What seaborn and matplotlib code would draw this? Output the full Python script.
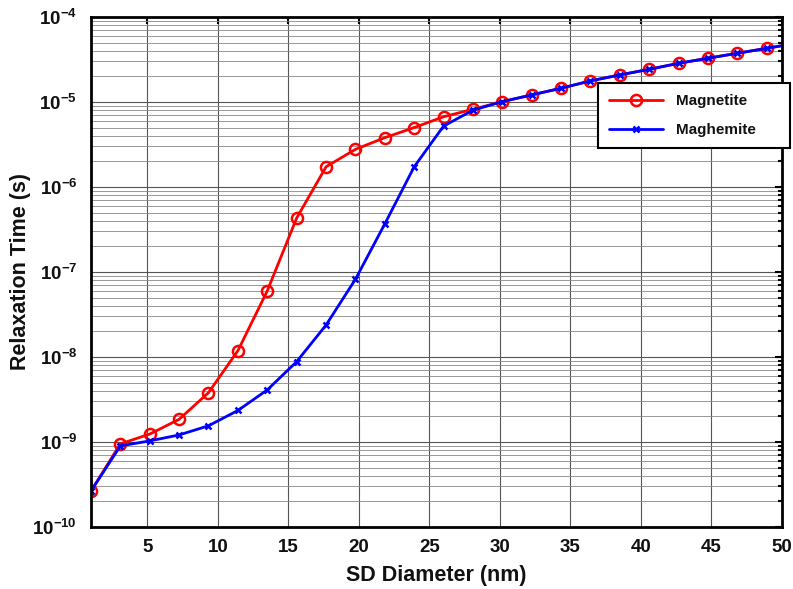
import numpy as np
import pandas as pd
import matplotlib
matplotlib.use("Agg")
import matplotlib.pyplot as plt
import matplotlib.ticker as mticker
import seaborn as sns

# SD diameter (nm), last point sits past the axis limit
diameter = [1.0, 3.08, 5.17, 7.25, 9.33, 11.42, 13.5, 15.58, 17.67, 19.75,
            21.83, 23.92, 26.0, 28.08, 30.17, 32.25, 34.33, 36.42, 38.5,
            40.58, 42.67, 44.75, 46.83, 48.92, 51.0]

magnetite = [2.65e-10, 9.5e-10, 1.24e-9, 1.85e-9, 3.8e-9, 1.19e-8, 6.0e-8,
             4.3e-7, 1.73e-6, 2.77e-6, 3.8e-6, 5.0e-6, 6.7e-6, 8.2e-6,
             1.01e-5, 1.21e-5, 1.45e-5, 1.77e-5, 2.08e-5, 2.42e-5, 2.85e-5,
             3.27e-5, 3.74e-5, 4.28e-5, 4.9e-5]

maghemite = [2.65e-10, 9.0e-10, 1.03e-9, 1.21e-9, 1.55e-9, 2.35e-9, 4.1e-9,
             8.8e-9, 2.38e-8, 8.2e-8, 3.67e-7, 1.73e-6, 5.2e-6, 8.0e-6,
             1.01e-5, 1.21e-5, 1.45e-5, 1.77e-5, 2.08e-5, 2.42e-5, 2.85e-5,
             3.27e-5, 3.74e-5, 4.28e-5, 4.9e-5]

x_ticks = [5, 10, 15, 20, 25, 30, 35, 40, 45, 50]
y_exponents = [-10, -9, -8, -7, -6, -5, -4]

sns.set_style("white")
plt.rcParams['font.family'] = ['Liberation Sans', 'DejaVu Sans']
plt.rcParams['font.weight'] = 'bold'
plt.rcParams['mathtext.fontset'] = 'custom'
plt.rcParams['mathtext.rm'] = 'Liberation Sans:bold'
plt.rcParams['mathtext.bf'] = 'Liberation Sans:bold'
plt.rcParams['mathtext.it'] = 'Liberation Sans:bold'

df_mt = pd.DataFrame({"d": diameter, "t": magnetite})
df_mh = pd.DataFrame({"d": diameter, "t": maghemite})

fig = plt.figure(figsize=(7.93, 5.89), dpi=100)
ax = fig.add_axes([0.1148, 0.1053, 0.8713, 0.8659])

sns.lineplot(data=df_mt, x="d", y="t", ax=ax, color="#ff0000", lw=2,
             marker="o", markersize=8, markerfacecolor="none",
             markeredgecolor="#ff0000", markeredgewidth=1.8,
             label="Magnetite", sort=False, estimator=None)
sns.lineplot(data=df_mh, x="d", y="t", ax=ax, color="#0000ff", lw=2,
             marker="x", markersize=5, markeredgecolor="#0000ff",
             markeredgewidth=1.8,
             label="Maghemite", sort=False, estimator=None)

ax.set_yscale("log")
ax.set_xlim(1, 50)
ax.set_ylim(1e-10, 1e-4)
ax.set_xticks(x_ticks)
ax.set_yticks([10.0 ** e for e in y_exponents],
              [r"$10^{%d}$" % e for e in y_exponents])
minor_y = [m * 10.0 ** e for e in y_exponents[:-1] for m in range(2, 10)]
ax.yaxis.set_minor_locator(mticker.FixedLocator(minor_y))
ax.yaxis.set_minor_formatter(mticker.NullFormatter())

ax.grid(True, which="major", axis="both", color="#555555", lw=0.8)
ax.grid(True, which="minor", axis="y", color="#888888", lw=0.6)
ax.set_axisbelow(True)

ax.tick_params(axis="both", which="both", direction="in", top=True, right=True,
               labelsize=13.5, width=1.5, colors="black", labelcolor="#111111")
ax.tick_params(axis="both", which="major", length=5)
ax.tick_params(axis="y", which="minor", length=3)
ax.tick_params(axis="y", which="major", pad=10)
ax.tick_params(axis="x", which="major", pad=9)
for s in ax.spines.values():
    s.set_linewidth(2)
    s.set_color("black")

ax.set_xlabel("SD Diameter (nm)", fontsize=15.5, fontweight="bold",
              labelpad=6, color="#111111")
ax.set_ylabel("Relaxation Time (s)", fontsize=15.5, fontweight="bold",
              labelpad=1, color="#111111")

leg = ax.legend(loc="upper left", bbox_to_anchor=(0.7337, 0.741, 0.278, 0.1295),
                mode="expand", borderaxespad=0, fontsize=11,
                frameon=True, fancybox=False, framealpha=1, borderpad=0.75,
                handlelength=3.5, handletextpad=0.85, labelspacing=0.95)
leg.get_frame().set_edgecolor("black")
leg.get_frame().set_linewidth(1.5)
for t in leg.get_texts():
    t.set_fontweight("bold")
    t.set_color("#111111")

fig.savefig("out.png", dpi=100)
